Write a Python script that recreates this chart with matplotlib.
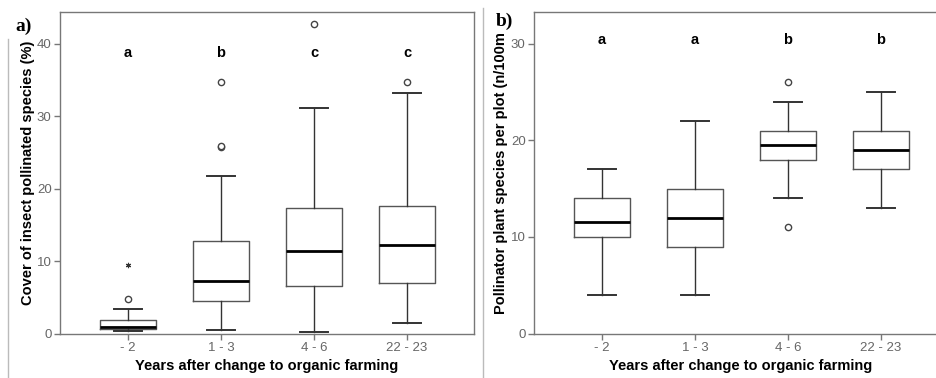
import matplotlib
matplotlib.use("Agg")
import matplotlib.pyplot as plt
from matplotlib.lines import Line2D

plt.rcParams['font.family'] = ['Liberation Sans', 'DejaVu Sans']

categories = ["- 2", "1 - 3", "4 - 6", "22 - 23"]

# Panel a: cover of insect pollinated species (%)
a_whislo = [0.28, 0.5, 0.25, 1.4]
a_q1 = [0.6, 4.5, 6.5, 7.0]
a_med = [0.9, 7.3, 11.4, 12.2]
a_q3 = [1.85, 12.8, 17.3, 17.6]
a_whishi = [3.45, 21.8, 31.2, 33.2]
a_outliers = [[4.8], [25.7, 25.9, 34.8], [42.7], [34.8]]
a_extremes = [[9.5], [], [], []]
a_letters = ["a", "b", "c", "c"]

# Panel b: pollinator plant species per plot
b_whislo = [4, 4, 14, 13]
b_q1 = [10, 9, 18, 17]
b_med = [11.5, 12, 19.5, 19]
b_q3 = [14, 15, 21, 21]
b_whishi = [17, 22, 24, 25]
b_outliers = [[], [], [11, 26], []]
b_extremes = [[], [], [], []]
b_letters = ["a", "a", "b", "b"]

W, H = 936, 378
fig = plt.figure(figsize=(W / 100, H / 100), dpi=100)

def px_axes(left, top, right, bottom):
    return fig.add_axes([left / W, 1 - bottom / H, (right - left) / W, (bottom - top) / H])

ax_a = px_axes(60, 12, 474, 333.5)
ax_b = px_axes(534, 12, 948, 333.5)

spine_col = "#777777"
tick_col = "#666666"

def draw(ax, wlo, q1, med, q3, whi, outs, extr, letters, ylim, yticks, ylabel, letter_y, lpad):
    stats = []
    for i in range(len(categories)):
        stats.append(dict(whislo=wlo[i], q1=q1[i], med=med[i], q3=q3[i], whishi=whi[i], fliers=outs[i]))
    pos = list(range(1, len(categories) + 1))
    ax.bxp(stats, positions=pos, widths=0.6, patch_artist=False,
           boxprops=dict(color="#555555", lw=1.0),
           medianprops=dict(color="black", lw=2.0),
           whiskerprops=dict(color="#333333", lw=1.0),
           capprops=dict(color="#333333", lw=1.4),
           flierprops=dict(marker="o", markersize=4.5, markerfacecolor="white",
                           markeredgecolor="#444444", markeredgewidth=1.0, linestyle="none"))
    for p, ex in zip(pos, extr):
        if ex:
            ax.plot([p] * len(ex), ex, linestyle="none", marker=(6, 2, 0), markersize=3.8,
                    color="#333333", markeredgewidth=0.8)
    for p, t in zip(pos, letters):
        ax.text(p, letter_y, t, ha="center", va="center", fontsize=10.5, fontweight="bold")
    ax.set_xlim(0.27, 4.72)
    ax.set_ylim(*ylim)
    ax.set_yticks(yticks)
    ax.set_xticks(pos)
    ax.set_xticklabels(categories)
    for s in ax.spines.values():
        s.set_color(spine_col)
        s.set_linewidth(1.0)
    ax.tick_params(axis="both", colors=spine_col, labelcolor=tick_col, labelsize=9.5,
                   length=4, width=1.0, direction="out", pad=2)
    ax.set_xlabel("Years after change to organic farming", fontsize=10.5, fontweight="bold",
                  labelpad=4)
    ax.set_ylabel(ylabel, fontsize=10.5, fontweight="bold", labelpad=lpad)

draw(ax_a, a_whislo, a_q1, a_med, a_q3, a_whishi, a_outliers, a_extremes, a_letters,
     (0, 44.4), [0, 10, 20, 30, 40], "Cover of insect pollinated species (%)", 38.7, 1)
draw(ax_b, b_whislo, b_q1, b_med, b_q3, b_whishi, b_outliers, b_extremes, b_letters,
     (0, 33.3), [0, 10, 20, 30], "Pollinator plant species per plot (n/100m", 30.4, 2)

fig.text(24 / W, 1 - 26 / H, "a)", fontsize=14, fontweight="bold", family="Liberation Serif",
         ha="center", va="center")
fig.text(504 / W, 1 - 21 / H, "b)", fontsize=14, fontweight="bold", family="Liberation Serif",
         ha="center", va="center")

# thin frame lines of the original layout
fig.add_artist(Line2D([483 / W, 483 / W], [0, 1 - 8 / H], transform=fig.transFigure,
                      color="#bbbbbb", lw=1.0))
fig.add_artist(Line2D([8 / W, 8 / W], [0, 1 - 39 / H], transform=fig.transFigure,
                      color="#bbbbbb", lw=1.0))

fig.savefig("out.png", dpi=100)
